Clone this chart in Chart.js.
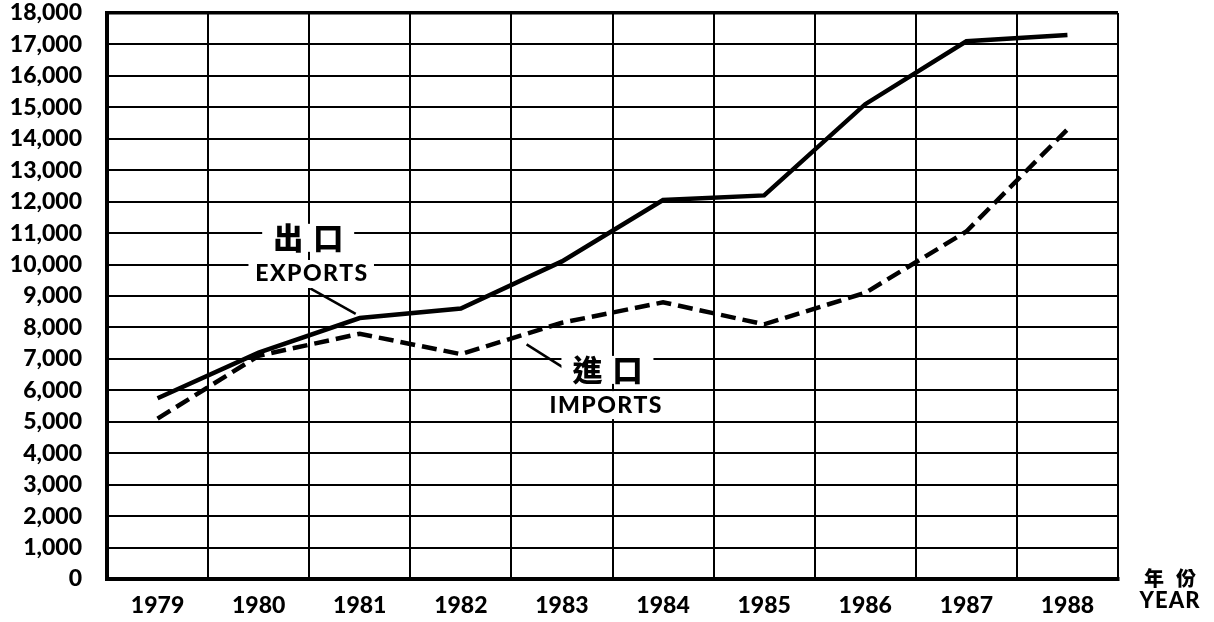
<!DOCTYPE html>
<html>
<head>
<meta charset="utf-8">
<script src="https://cdn.jsdelivr.net/npm/chart.js@4"></script>
<style>
  html, body { margin: 0; padding: 0; background: #fff; }
  #wrap { width: 1214px; height: 622px; }
</style>
</head>
<body>
<div id="wrap"><canvas id="chart" width="1214" height="622"></canvas></div>
<script>
// Exports / imports by year
const years = ['1979', '1980', '1981', '1982', '1983', '1984', '1985', '1986', '1987', '1988'];
const exportsValues = [5750, 7200, 8300, 8600, 10100, 12050, 12200, 15100, 17100, 17300];
const importsValues = [5100, 7100, 7800, 7150, 8150, 8800, 8100, 9100, 11050, 14300];

// Y axis range
const yMin = 0;
const yMax = 18000;
const yStep = 1000;

// Callout labels: [category index, value] anchors
const calloutExports = { title: '出口', sub: 'EXPORTS', titleAt: [1.49, 10850], subAt: [1.52, 9700], pointer: [[1.51, 9240], [1.96, 8430]] };
const calloutImports = { title: '進口', sub: 'IMPORTS', titleAt: [4.45, 6650], subAt: [4.43, 5530], pointer: [[3.65, 7460], [4.01, 6730]] };

const latinFont = 'Lato, "Liberation Sans", sans-serif';
const cjkFont = '"Noto Sans CJK TC", "Noto Sans CJK SC", sans-serif';

// Draws the callouts and the year axis title
const calloutPlugin = {
  id: 'callouts',
  afterDatasetsDraw(chart) {
    const { ctx, chartArea } = chart;
    const x = chart.scales.x;
    const y = chart.scales.y;

    function drawLabel(text, at, font, spacing) {
      const px = x.getPixelForValue(at[0]);
      const py = y.getPixelForValue(at[1]);
      ctx.font = font;
      ctx.letterSpacing = spacing + 'px';
      const w = ctx.measureText(text).width;
      ctx.fillStyle = '#fff';
      ctx.fillRect(px - w / 2 - 6, py - 14, w + 12, 28);
      ctx.fillStyle = '#000';
      ctx.textAlign = 'center';
      ctx.textBaseline = 'middle';
      ctx.fillText(text, px + spacing / 2, py);
      ctx.letterSpacing = '0px';
    }

    [calloutExports, calloutImports].forEach(c => {
      ctx.save();
      ctx.strokeStyle = '#000';
      ctx.lineWidth = 2.5;
      ctx.beginPath();
      ctx.moveTo(x.getPixelForValue(c.pointer[0][0]), y.getPixelForValue(c.pointer[0][1]));
      ctx.lineTo(x.getPixelForValue(c.pointer[1][0]), y.getPixelForValue(c.pointer[1][1]));
      ctx.stroke();
      drawLabel(c.title, c.titleAt, '900 30px ' + cjkFont, 10);
      drawLabel(c.sub, c.subAt, '900 23px ' + latinFont, 1.5);
      ctx.restore();
    });

    // axis title at the right of the x axis
    ctx.save();
    ctx.fillStyle = '#000';
    ctx.textAlign = 'center';
    ctx.textBaseline = 'middle';
    const tx = chartArea.right + 52;
    ctx.font = '900 20px ' + cjkFont;
    ctx.letterSpacing = '12px';
    ctx.fillText('年份', tx + 6, chartArea.bottom - 1);
    ctx.font = '900 22px ' + latinFont;
    ctx.letterSpacing = '1px';
    ctx.fillText('YEAR', tx, chartArea.bottom + 22);
    ctx.restore();
  }
};

const edgeWidth = 3.5;
const innerWidth = 2;

new Chart(document.getElementById('chart'), {
  type: 'line',
  data: {
    labels: years,
    datasets: [
      {
        label: 'EXPORTS',
        data: exportsValues,
        borderColor: '#000',
        borderWidth: 4.5,
        pointRadius: 0,
        tension: 0,
        fill: false
      },
      {
        label: 'IMPORTS',
        data: importsValues,
        borderColor: '#000',
        borderWidth: 4.5,
        borderDash: [15, 7],
        pointRadius: 0,
        tension: 0,
        fill: false
      }
    ]
  },
  options: {
    responsive: false,
    animation: false,
    layout: { padding: { top: 13, right: 96, left: 0, bottom: 0 } },
    plugins: {
      legend: { display: false },
      tooltip: { enabled: false }
    },
    scales: {
      x: {
        type: 'category',
        offset: true,
        grid: {
          offset: true,
          color: '#000',
          drawTicks: false,
          lineWidth: ctx => (ctx.index === 0 || ctx.index === years.length) ? edgeWidth : innerWidth
        },
        border: { display: true, color: '#000', width: 4 },
        ticks: {
          color: '#000',
          padding: 13,
          maxRotation: 0,
          autoSkip: false,
          font: { family: latinFont, size: 23, weight: '900' }
        },
        afterFit: scale => {
          scale.height = 43;
          scale.paddingLeft = 0;
          scale.paddingRight = 0;
        }
      },
      y: {
        min: yMin,
        max: yMax,
        grid: {
          color: '#000',
          drawTicks: false,
          lineWidth: ctx => (ctx.index === 0 || ctx.tick && ctx.tick.value === yMax) ? edgeWidth : innerWidth
        },
        border: { display: true, color: '#000', width: 4 },
        ticks: {
          stepSize: yStep,
          autoSkip: false,
          color: '#000',
          padding: 25,
          font: { family: latinFont, size: 23, weight: '900' },
          callback: v => v.toLocaleString('en-US')
        },
        afterFit: scale => {
          scale.width = 107;
          scale.paddingTop = 0;
          scale.paddingBottom = 0;
        }
      }
    }
  },
  plugins: [calloutPlugin]
});
</script>
</body>
</html>
